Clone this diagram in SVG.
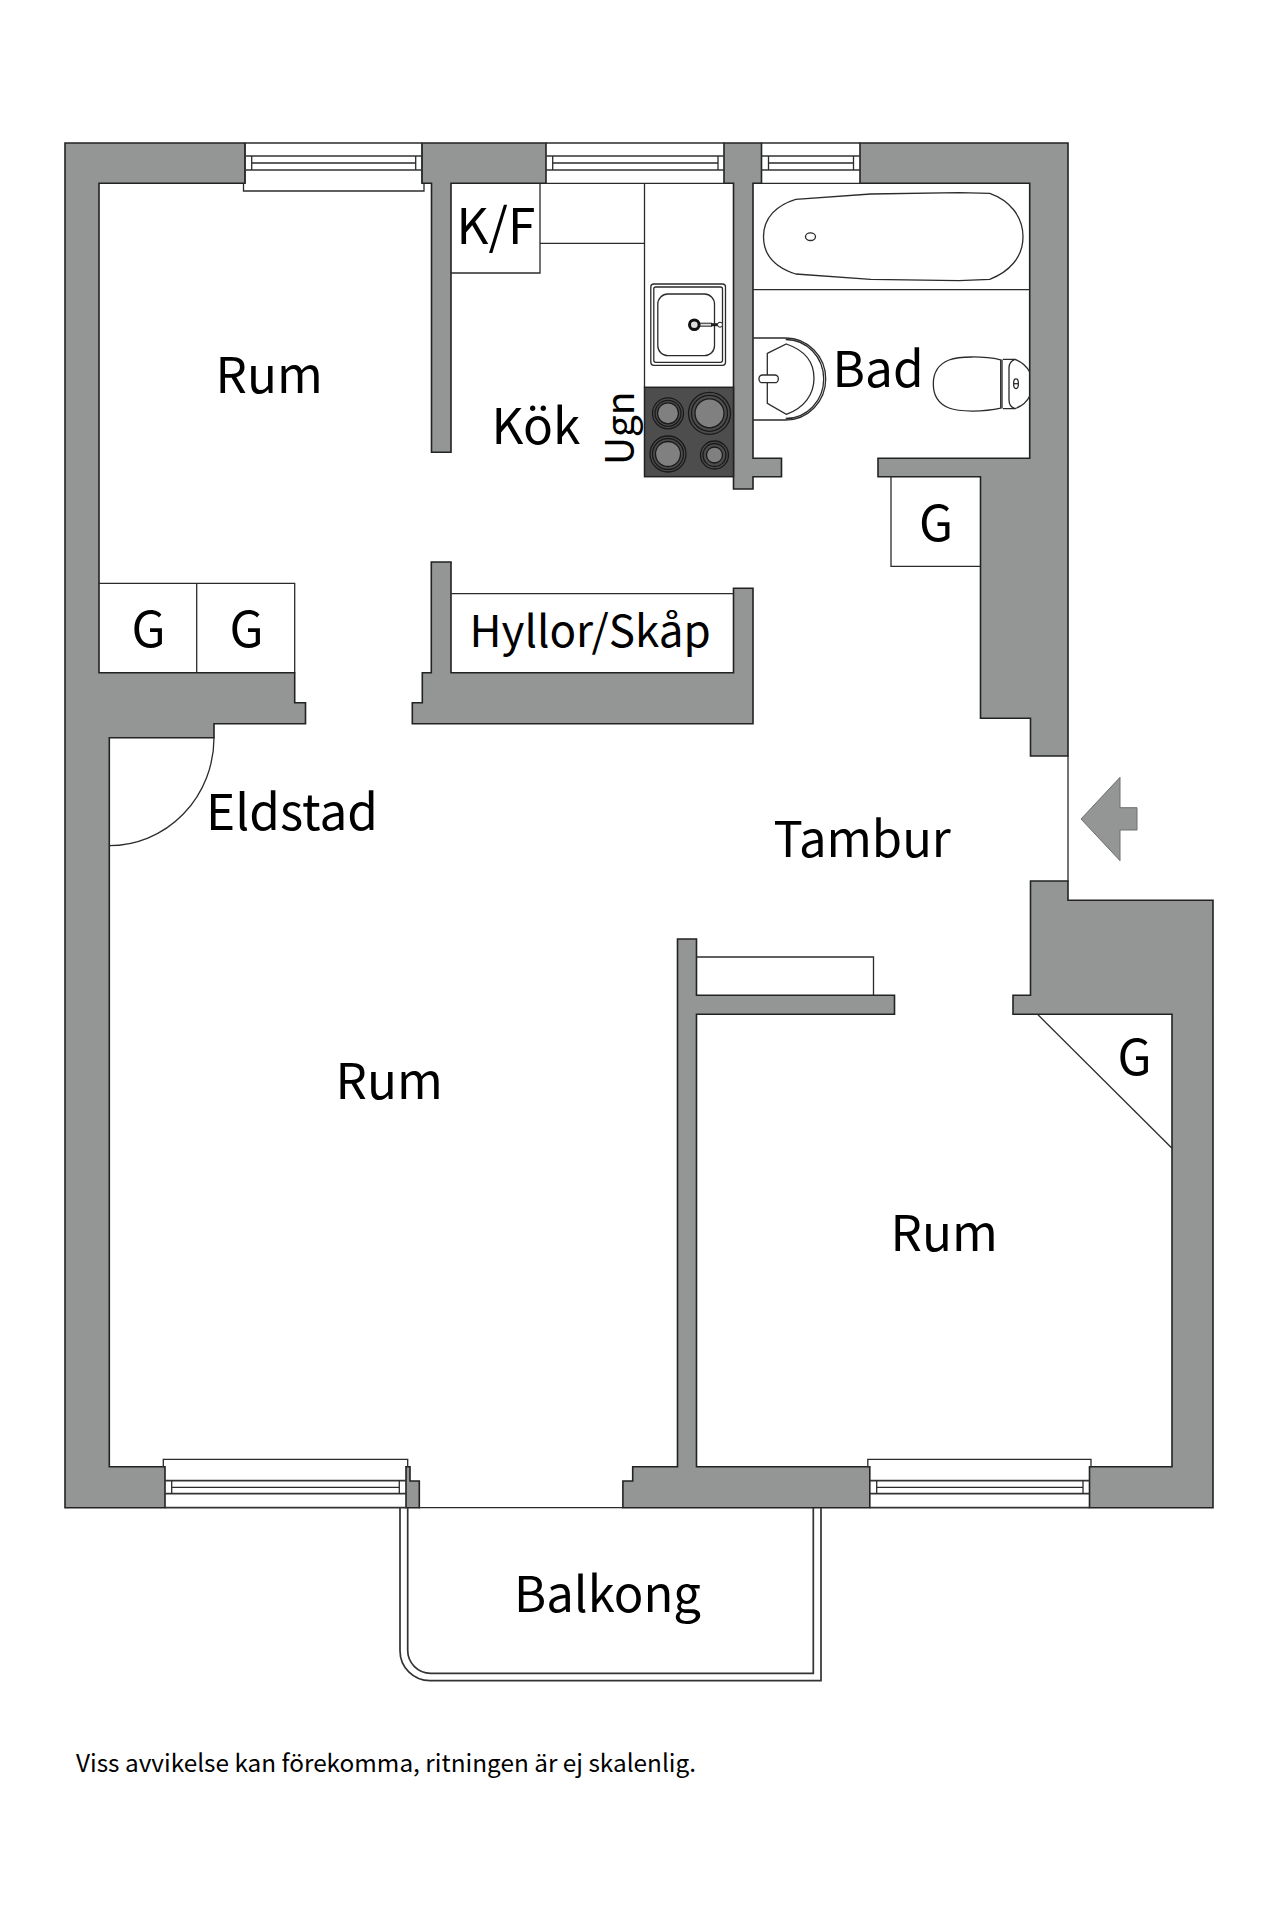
<svg xmlns="http://www.w3.org/2000/svg" width="1280" height="1920" viewBox="0 0 1280 1920">
<style>
.w{fill:#939695;stroke:#222;stroke-width:1.6;stroke-linejoin:miter}
.l{fill:none;stroke:#2b2b2b;stroke-width:1.3}
.m{fill:none;stroke:#333;stroke-width:1.7}
.f{fill:#fff;stroke:#2b2b2b;stroke-width:1.3}
.b{fill:#808080;stroke:#1a1a1a;stroke-width:1.3}
.o{fill:#4d4d4d;stroke:#1a1a1a;stroke-width:1.3}
text{font-family:"Noto Sans CJK SC","Noto Sans",sans-serif;fill:#000;font-size:49.5px}
</style>
<rect width="1280" height="1920" fill="#fff"/>
<g id="walls">
<path class="w" d="M65 143H245V183.3H99V672.7H294.7V702.7H305.5V723.7H214V737.7H109.3V1466.7H165V1507.7H65Z"/>
<path class="w" d="M422 143H546V183.3H451V452.3H431.5V183.3H422Z"/>
<path class="w" d="M724 143H761.5V183.3H753V458.3H781.5V476.7H753V489H733.5V183.3H724Z"/>
<path class="w" d="M860 143H1068V756H1030.5V718.3H980.5V476.7H878V458.3H1029.7V183.3H860Z"/>
<path class="w" d="M431.3 562H451V672.7H733.5V588.3H753V723.7H412.3V702.7H422.3V672.7H431.3Z"/>
<path class="w" d="M1030.5 881H1068V900.3H1213V1507.7H1089.5V1466.7H1172V1014.3H1013V995.3H1030.5Z"/>
<path class="w" d="M677.5 939H696.5V995.3H894.5V1014.3H696.5V1466.7H869.8V1507.7H622.9V1481H632.7V1466.7H677.5Z"/>
<path class="w" d="M406 1466.7H410V1481H419.3V1507.7H406Z"/>
<path class="l" d="M1068 756V881M419.3 1507.7H622.9"/>
</g>
<g id="windows">
<path class="l" d="M245 143H422M243.5 183.3V191H424V183.3M245 143V183.3M422 143V183.3"/>
<path class="m" d="M245 156H422M245 170H422"/>
<path class="l" d="M251.7 156V170M415.7 156V170M251.7 163H415.7"/>
<path class="l" d="M546 143H724M546 183.3H724"/>
<path class="m" d="M546 156H724M546 170H724"/>
<path class="l" d="M552.7 156V170M718 156V170M552.7 163H718"/>
<path class="l" d="M761.5 143H860M761.5 183.3H860"/>
<path class="m" d="M761.5 156H860M761.5 170H860"/>
<path class="l" d="M768.5 156V170M853.5 156V170M768.5 163H853.5"/>
<path class="l" d="M165 1466.7H163.3V1459.3H407.7V1466.7"/>
<path class="m" d="M165 1480.7H406M165 1493.7H406M165 1507.7H406"/>
<path class="l" d="M171.7 1480.7V1493.7M399.3 1480.7V1493.7M171.7 1487.3H399.3"/>
<path class="l" d="M869.8 1466.7H867.8V1459.3H1091V1466.7H1089.5"/>
<path class="m" d="M869.8 1480.7H1089.5M869.8 1493.7H1089.5M869.8 1507.7H1089.5"/>
<path class="l" d="M876.7 1480.7V1493.7M1083 1480.7V1493.7M876.7 1487.3H1083"/>
</g>
<g id="balcony">
<path class="m" d="M400 1507.7V1650.7A30 30 0 0 0 430 1680.7H821V1507.7"/>
<path class="m" d="M407.7 1507.7V1650.3A23 23 0 0 0 430.7 1673.3H813.3V1507.7"/>
</g>
<g id="door">
<path class="l" d="M214 737.7A104.7 108 0 0 1 109.3 845.7"/>
</g>
<g id="closets">
<path class="l" d="M99 583.3H294.7V672.7M196.7 583.3V672.7"/>
<path class="l" d="M451 593.7H733.5"/>
<path class="l" d="M540 183.3V273H451M540 243.3H644.5"/>
<path class="l" d="M891 476.7V566.4H980.5"/>
<path class="l" d="M696.5 957H873.5V995.3"/>
<path class="l" d="M1037.5 1014.3L1172 1148.3"/>
<path class="l" d="M644.5 183.3V387.3"/>
<path class="l" d="M753 289.7H1029.7"/>
</g>
<g id="sink">
<rect class="l" x="650.8" y="284" width="74.7" height="81.3" rx="3"/>
<rect class="l" x="653.8" y="287" width="68.7" height="75.3" rx="2"/>
<rect class="l" x="657.8" y="294" width="56.7" height="61.7" rx="10"/>
<path d="M694 323.2H712V326.2H694Z" fill="#ddd" stroke="#222" stroke-width="1"/>
<path d="M711 323.2H718V326.2H711Z" fill="#222"/>
<circle cx="694.3" cy="324.7" r="4.8" fill="#ddd" stroke="#111" stroke-width="3"/>
<circle cx="720" cy="324.7" r="2.5" fill="#fff" stroke="#222" stroke-width="1"/>
</g>
<g id="hob">
<rect x="644.5" y="387.3" width="89" height="89.4" fill="#4d4d4d" stroke="#222" stroke-width="1.5"/>
<circle class="o" cx="668" cy="413.3" r="15.5"/><circle class="o" cx="668" cy="413.3" r="13"/><circle class="b" cx="668" cy="413.3" r="10.5"/>
<circle class="o" cx="709.5" cy="413.3" r="21"/><circle class="o" cx="709.5" cy="413.3" r="18"/><circle class="b" cx="709.5" cy="413.3" r="14.5"/>
<circle class="o" cx="668" cy="454" r="18"/><circle class="o" cx="668" cy="454" r="15.5"/><circle class="b" cx="668" cy="454" r="12.5"/>
<circle class="o" cx="714.5" cy="455" r="14"/><circle class="o" cx="714.5" cy="455" r="11.5"/><circle class="b" cx="714.5" cy="455" r="8"/>
</g>
<g id="bathtub">
<path class="l" d="M795.7 199.3L870.7 194 959 192.7 989.7 193.3C1009 200 1023 216 1023 236.7S1009 272 989.7 279.3L959 280.7 870.7 279.3 795.7 274C777 268 763.5 256 763.5 236.7S777 205 795.7 199.3Z"/>
<ellipse class="l" cx="810.5" cy="236.7" rx="5" ry="3.8"/>
</g>
<g id="basin">
<path class="l" d="M753 338H785.7A40 41 0 0 1 785.7 420H753"/>
<path class="l" d="M785.7 339.5A38 39.5 0 0 1 785.7 418.5"/>
<path class="l" d="M767.3 353.3L786.3 344C804 350 814 362 814 378.3S804 408 786.3 414.3L767.3 403.3Z"/>
<rect class="f" x="759" y="375" width="19.3" height="7.7" rx="3.5"/>
</g>
<g id="toilet">
<path class="l" d="M1000.7 359.8C984 356 959 356 949 360C939 364 933.3 372 933.3 384S939 404 949 408C959 412 984 412 1000.7 408.2Z"/>
<path class="l" d="M1002 359.5V408.5"/>
<path class="l" d="M1003 359.3H1015C1022 362 1027 367 1029.7 372M1029.7 396C1027 402 1022 406 1015 408.7H1003"/>
<path class="l" d="M1015 359.3C1010 361 1009 364 1009 368V400C1009 404 1010 407 1015 408.7"/>
<ellipse class="l" cx="1016" cy="383.7" rx="2.4" ry="4.8"/>
<path class="l" d="M1013.6 383.7H1018.4"/>
</g>
<g id="entrance">
<path d="M1081 819L1120 777.3V807.7H1137V830H1120V860.7Z" fill="#939695" stroke="#6f6f6f" stroke-width="1"/>
</g>
<g id="labels">
<text x="215.5" y="393.3">Rum</text>
<text x="456.5" y="244.3">K/F</text>
<text x="491.5" y="444">Kök</text>
<text transform="translate(634 465) rotate(-90)" style="font-size:39px">Ugn</text>
<text x="832.5" y="387.4">Bad</text>
<text x="131.5" y="646.7">G</text>
<text x="229.5" y="646.7">G</text>
<text x="919" y="541">G</text>
<text x="469.5" y="646.7" style="font-size:44px">Hyllor/Skåp</text>
<text x="206" y="829.5">Eldstad</text>
<text x="773.5" y="856.7" style="font-size:49px">Tambur</text>
<text x="1117.5" y="1075">G</text>
<text x="335.5" y="1099">Rum</text>
<text x="890.5" y="1250.5">Rum</text>
<text x="514" y="1611.5" style="font-size:49px">Balkong</text>
<text x="76" y="1771.6" style="font-size:24.35px">Viss avvikelse kan förekomma, ritningen är ej skalenlig.</text>
</g>
</svg>
